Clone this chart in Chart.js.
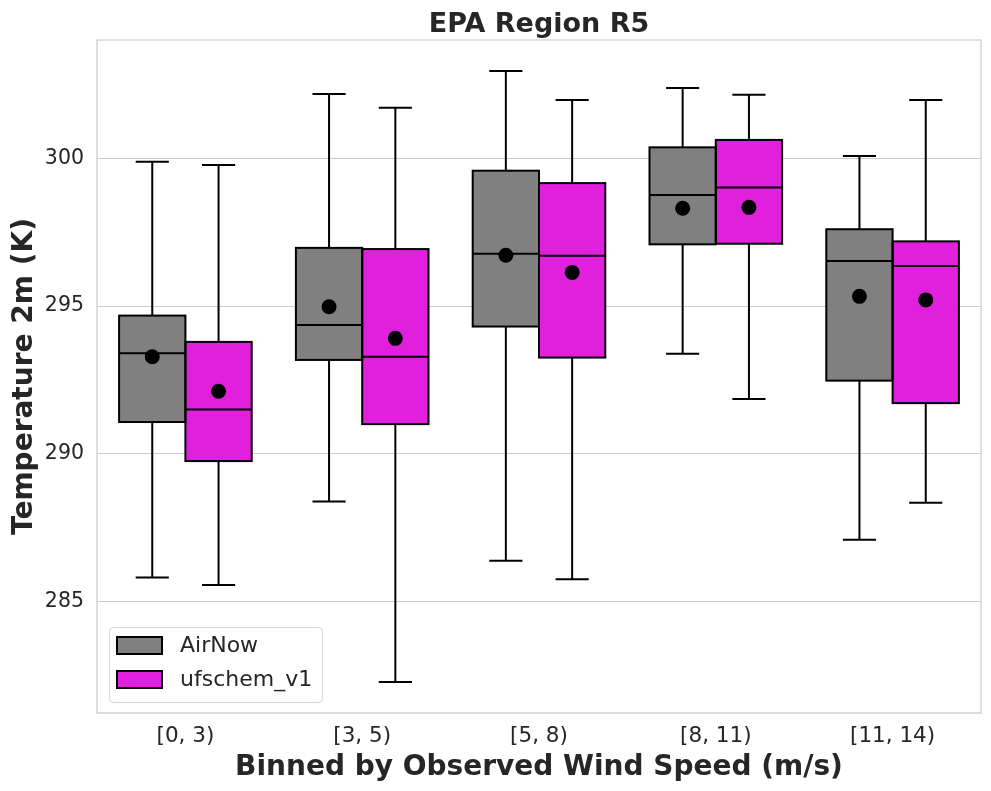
<!DOCTYPE html>
<html>
<head>
<meta charset="utf-8">
<title>EPA Region R5</title>
<script src="https://cdn.jsdelivr.net/npm/chart.js@4.4.1/dist/chart.umd.min.js"></script>
<style>
  html, body { margin: 0; padding: 0; background: #fff; }
  canvas { display: block; }
</style>
</head>
<body>
<canvas id="boxChart" width="991" height="791"></canvas>
<script>
const categories = ['[0, 3)', '[3, 5)', '[5, 8)', '[8, 11)', '[11, 14)']
const yTicks = [285, 290, 295, 300]

// AirNow box stats (whisker low, q1, median, q3, whisker high, mean)
const airnowLow = [285.82, 288.39, 286.39, 293.39, 287.10]
const airnowQ1 = [291.08, 293.18, 294.31, 297.09, 292.48]
const airnowMedian = [293.41, 294.36, 296.77, 298.76, 296.53]
const airnowQ3 = [294.68, 296.97, 299.58, 300.37, 297.60]
const airnowHigh = [299.88, 302.17, 302.95, 302.38, 300.08]
const airnowMean = [293.29, 294.98, 296.72, 298.31, 295.33]

// ufschem_v1 box stats
const ufsLow = [285.57, 282.29, 285.76, 291.86, 288.35]
const ufsQ1 = [289.76, 291.01, 293.26, 297.11, 291.72]
const ufsMedian = [291.50, 293.29, 296.70, 299.01, 296.36]
const ufsQ3 = [293.79, 296.93, 299.16, 300.62, 297.19]
const ufsHigh = [299.77, 301.71, 301.97, 302.15, 301.97]
const ufsMean = [292.12, 293.91, 296.14, 298.34, 295.21]

const textColor = '#262626'
const fontFamily = "'DejaVu Sans', sans-serif"

const series = [
  {label: 'AirNow', color: '#808080', low: airnowLow, q1: airnowQ1, med: airnowMedian, q3: airnowQ3, high: airnowHigh, mean: airnowMean},
  {label: 'ufschem_v1', color: '#e020dd', low: ufsLow, q1: ufsQ1, med: ufsMedian, q3: ufsQ3, high: ufsHigh, mean: ufsMean}
]

// boxes are floating bars from q1 to q3, outline is stroked by the plugin
const datasets = series.map(s => ({
  label: s.label,
  data: s.q1.map((v, i) => [v, s.q3[i]]),
  backgroundColor: s.color,
  borderWidth: 0,
  categoryPercentage: 0.75,
  barPercentage: 1.0
}))

const line = (ctx, x1, y1, x2, y2) => {
  ctx.beginPath()
  ctx.moveTo(x1, y1)
  ctx.lineTo(x2, y2)
  ctx.stroke()
}

// whiskers, box outlines, medians, means, frame, legend and titles
const boxExtras = {
  id: 'boxExtras',
  beforeDatasetsDraw(chart) {
    const {ctx, scales: {y}} = chart
    ctx.save()
    ctx.strokeStyle = '#000'
    ctx.lineWidth = 2
    series.forEach((s, di) => {
      chart.getDatasetMeta(di).data.forEach((bar, i) => {
        const cap = bar.width / 4
        const yHigh = y.getPixelForValue(s.high[i])
        const yLow = y.getPixelForValue(s.low[i])
        line(ctx, bar.x, y.getPixelForValue(s.q3[i]), bar.x, yHigh)
        line(ctx, bar.x, y.getPixelForValue(s.q1[i]), bar.x, yLow)
        line(ctx, bar.x - cap, yHigh, bar.x + cap, yHigh)
        line(ctx, bar.x - cap, yLow, bar.x + cap, yLow)
      })
    })
    ctx.restore()
  },
  afterDatasetsDraw(chart) {
    const {ctx, scales: {y}} = chart
    ctx.save()
    ctx.strokeStyle = '#000'
    ctx.fillStyle = '#000'
    ctx.lineWidth = 2
    series.forEach((s, di) => {
      chart.getDatasetMeta(di).data.forEach((bar, i) => {
        const left = bar.x - bar.width / 2
        const top = y.getPixelForValue(s.q3[i])
        const bottom = y.getPixelForValue(s.q1[i])
        ctx.strokeRect(left, top, bar.width, bottom - top)
        const ym = y.getPixelForValue(s.med[i])
        line(ctx, left, ym, left + bar.width, ym)
        ctx.beginPath()
        ctx.arc(bar.x, y.getPixelForValue(s.mean[i]), 7.5, 0, Math.PI * 2)
        ctx.fill()
      })
    })
    ctx.restore()
  },
  afterDraw(chart) {
    const {ctx, chartArea: a} = chart
    ctx.save()
    // axes frame
    ctx.strokeStyle = '#cccccc'
    ctx.lineWidth = 1.25
    ctx.strokeRect(a.left, a.top, a.right - a.left, a.bottom - a.top)

    // legend
    const lx = a.left + 12, ly = a.bottom - 86
    ctx.fillStyle = 'rgba(255,255,255,0.8)'
    ctx.strokeStyle = '#d6d6d6'
    ctx.lineWidth = 1
    ctx.beginPath()
    ctx.roundRect(lx + 0.5, ly + 0.5, 213, 75, 4)
    ctx.fill()
    ctx.stroke()
    ctx.font = '22px ' + fontFamily
    ctx.textBaseline = 'middle'
    ctx.textAlign = 'left'
    series.forEach((s, i) => {
      const ry = ly + 10 + i * 34
      ctx.fillStyle = s.color
      ctx.strokeStyle = '#000'
      ctx.lineWidth = 2
      ctx.fillRect(lx + 8, ry, 45, 17)
      ctx.strokeRect(lx + 8, ry, 45, 17)
      ctx.fillStyle = textColor
      ctx.fillText(s.label, lx + 71, ry + 9)
    })

    // titles
    const cx = (a.left + a.right) / 2
    ctx.fillStyle = textColor
    ctx.textAlign = 'center'
    ctx.textBaseline = 'alphabetic'
    ctx.font = 'bold 27px ' + fontFamily
    ctx.fillText('EPA Region R5', cx, 32)
    ctx.font = 'bold 28px ' + fontFamily
    ctx.fillText('Binned by Observed Wind Speed (m/s)', cx, 775)
    ctx.translate(32, (a.top + a.bottom) / 2)
    ctx.rotate(-Math.PI / 2)
    ctx.fillText('Temperature 2m (K)', 0, 0)
    ctx.restore()
  }
}

new Chart(document.getElementById('boxChart'), {
  type: 'bar',
  data: {labels: categories, datasets: datasets},
  options: {
    responsive: false,
    animation: false,
    layout: {padding: {top: 40, right: 10, left: 0, bottom: 0}},
    plugins: {
      legend: {display: false},
      title: {display: false},
      tooltip: {enabled: false}
    },
    scales: {
      x: {
        grid: {display: false, drawTicks: false},
        border: {display: false},
        ticks: {color: textColor, padding: 11, font: {family: fontFamily, size: 21.5}},
        afterFit: s => { s.height = 78 }
      },
      y: {
        min: 281.24,
        max: 304.0,
        afterBuildTicks: s => { s.ticks = yTicks.map(v => ({value: v})) },
        grid: {color: '#cccccc', lineWidth: 1, drawTicks: false},
        border: {display: false},
        ticks: {color: textColor, padding: 13, font: {family: fontFamily, size: 20.5}},
        afterFit: s => { s.width = 97 }
      }
    }
  },
  plugins: [boxExtras]
})
</script>
</body>
</html>
